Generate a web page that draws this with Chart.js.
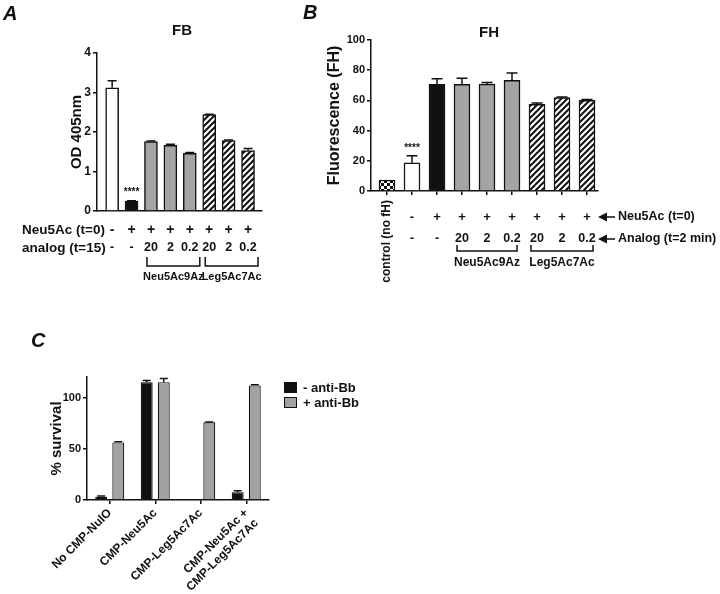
<!DOCTYPE html>
<html>
<head>
<meta charset="utf-8">
<script src="https://cdn.jsdelivr.net/npm/chart.js@4.4.0/dist/chart.umd.min.js"></script>
<style>
    html, body { margin: 0; padding: 0; background: #fff; }
    #wrap { position: relative; width: 720px; height: 594px; }
    canvas { position: absolute; left: 0; top: 0; }
</style>
</head>
<body>
<div id="wrap">
    <canvas id="chartA" width="720" height="594"></canvas>
    <canvas id="chartB" width="720" height="594"></canvas>
    <canvas id="chartC" width="720" height="594"></canvas>
</div>
<script>
// --- DATA ---
// Panel A: FB deposition (OD 405nm)
const fbNeu5Ac = ['-', '+', '+', '+', '+', '+', '+', '+'];
const fbAnalog = ['-', '-', '20', '2', '0.2', '20', '2', '0.2'];
const fbValues = [3.12, 0.25, 1.76, 1.66, 1.46, 2.44, 1.78, 1.53];
const fbErrors = [0.18, 0.01, 0.01, 0.03, 0.02, 0.01, 0.02, 0.05];
const fbStyles = ['white', 'black', 'gray', 'gray', 'gray', 'hatch', 'hatch', 'hatch'];

// Panel B: FH binding (fluorescence)
const fhNeu5Ac = ['', '-', '+', '+', '+', '+', '+', '+', '+'];
const fhAnalog = ['', '-', '-', '20', '2', '0.2', '20', '2', '0.2'];
const fhValues = [7.2, 18.7, 70.6, 70.6, 70.8, 73.3, 57.4, 61.8, 60.0];
const fhErrors = [0, 4.7, 3.8, 4.0, 1.1, 4.8, 0.9, 0.4, 0.6];
const fhStyles = ['checker', 'white', 'black', 'gray', 'gray', 'gray', 'hatch', 'hatch', 'hatch'];

// Panel C: % survival
const survivalGroups = [['No CMP-NulO'], ['CMP-Neu5Ac'], ['CMP-Leg5Ac7Ac'], ['CMP-Neu5Ac +', 'CMP-Leg5Ac7Ac']];
const survivalNoAb = [3.2, 115, 0, 7.5];
const survivalNoAbErr = [0.6, 1.5, 0, 1.6];
const survivalAb = [56.2, 115, 75.8, 111.8];
const survivalAbErr = [0.6, 3.6, 0.4, 0.7];
const legendLabels = ['- anti-Bb', '+ anti-Bb'];

// --- STYLE HELPERS ---
const INK = '#111';
const GRAY = '#a4a4a4';
const FONT = 'Liberation Sans';
Chart.defaults.font.family = FONT;
Chart.defaults.font.weight = 'bold';
Chart.defaults.color = INK;
Chart.defaults.animation = false;

function makeHatch() {
    const s = 6;
    const c = document.createElement('canvas');
    c.width = s; c.height = s;
    const g = c.getContext('2d');
    g.fillStyle = '#fff';
    g.fillRect(0, 0, s, s);
    g.strokeStyle = INK;
    g.lineWidth = 2;
    g.beginPath();
    g.moveTo(0, s); g.lineTo(s, 0);
    g.moveTo(-1, 1); g.lineTo(1, -1);
    g.moveTo(s - 1, s + 1); g.lineTo(s + 1, s - 1);
    g.stroke();
    return g.createPattern(c, 'repeat');
}

function makeChecker() {
    const c = document.createElement('canvas');
    c.width = 6; c.height = 6;
    const g = c.getContext('2d');
    g.fillStyle = '#fff';
    g.fillRect(0, 0, 6, 6);
    g.fillStyle = INK;
    g.fillRect(0, 0, 3, 3);
    g.fillRect(3, 3, 3, 3);
    return g.createPattern(c, 'repeat');
}

const fills = { white: '#fff', black: INK, gray: GRAY, hatch: makeHatch(), checker: makeChecker() };

// up-only error bars with cap, drawn from dataset.errors
const errorBars = {
    id: 'errorBars',
    afterDatasetsDraw(chart, args, opts) {
        const ctx = chart.ctx;
        const y = chart.scales.y;
        ctx.save();
        ctx.strokeStyle = INK;
        ctx.lineWidth = 1.5;
        chart.data.datasets.forEach((ds, di) => {
            if (!ds.errors) return;
            chart.getDatasetMeta(di).data.forEach((bar, i) => {
                const e = ds.errors[i];
                if (!e) return;
                const raw = ds.data[i];
                const v = typeof raw === 'object' ? raw.y : raw;
                const top = y.getPixelForValue(v + e);
                const half = opts.cap / 2;
                ctx.beginPath();
                ctx.moveTo(bar.x, bar.y);
                ctx.lineTo(bar.x, top);
                ctx.moveTo(bar.x - half, top);
                ctx.lineTo(bar.x + half, top);
                ctx.stroke();
            });
        });
        ctx.restore();
    }
};

function text(ctx, str, x, y, size, align, italic) {
    ctx.font = (italic ? 'italic ' : '') + 'bold ' + size + 'px "' + FONT + '"';
    ctx.textAlign = align || 'center';
    ctx.textBaseline = 'middle';
    ctx.fillStyle = INK;
    ctx.fillText(str, x, y);
}

function bracket(ctx, x1, x2, yTop, yBot) {
    ctx.save();
    ctx.strokeStyle = INK;
    ctx.lineWidth = 1.5;
    ctx.beginPath();
    ctx.moveTo(x1, yTop); ctx.lineTo(x1, yBot); ctx.lineTo(x2, yBot); ctx.lineTo(x2, yTop);
    ctx.stroke();
    ctx.restore();
}

function arrow(ctx, x, y) {
    ctx.save();
    ctx.fillStyle = INK;
    ctx.strokeStyle = INK;
    ctx.lineWidth = 1.5;
    ctx.beginPath();
    ctx.moveTo(x, y); ctx.lineTo(x + 9, y - 4.5); ctx.lineTo(x + 9, y + 4.5); ctx.closePath();
    ctx.fill();
    ctx.beginPath();
    ctx.moveTo(x + 8, y); ctx.lineTo(x + 17, y);
    ctx.stroke();
    ctx.restore();
}

function yAxis(opts) {
    return {
        min: 0, max: opts.max,
        afterFit: s => { s.width = opts.width; },
        border: { color: INK, width: 1.5 },
        grid: { display: true, drawOnChartArea: false, color: INK, lineWidth: 1.5, tickLength: 4 },
        ticks: { stepSize: opts.step, padding: 2, font: { size: opts.tickSize }, color: INK, includeBounds: false },
        title: { display: true, text: opts.title, font: { size: opts.titleSize }, color: INK, padding: { top: opts.titlePad, bottom: 0 } }
    };
}

function xIndexAxis(min, max, count, showTicks) {
    return {
        type: 'linear', min: min, max: max, offset: false,
        afterFit: s => { s.height = 0; },
        afterBuildTicks: s => { s.ticks = Array.from({ length: count }, (_, i) => ({ value: i })); },
        border: { color: INK, width: 1.5 },
        grid: { display: showTicks, offset: false, drawOnChartArea: false, color: INK, lineWidth: 1.5, tickLength: 4 },
        ticks: { display: false }
    };
}

// --- PANEL A ---
new Chart(document.getElementById('chartA'), {
    type: 'bar',
    data: {
        datasets: [{
            data: fbValues.map((v, i) => ({ x: i, y: v })),
            errors: fbErrors,
            backgroundColor: fbStyles.map(s => fills[s]),
            borderColor: INK,
            borderWidth: 1.5,
            barThickness: 13
        }]
    },
    options: {
        responsive: false,
        devicePixelRatio: 1,
        layout: { padding: { left: 60, top: 53, right: 458, bottom: 383 } },
        scales: {
            x: xIndexAxis(-0.78, 7.72, fbValues.length, false),
            y: yAxis({ max: 4, step: 1, width: 37, tickSize: 12, title: 'OD 405nm', titleSize: 15, titlePad: 8 })
        },
        plugins: { legend: { display: false }, tooltip: { enabled: false }, errorBars: { cap: 9 } }
    },
    plugins: [errorBars, {
        id: 'fbExtras',
        afterDraw(chart) {
            const ctx = chart.ctx;
            const x = chart.scales.x, y = chart.scales.y;
            text(ctx, 'A', 3, 14, 20, 'left', true);
            text(ctx, 'FB', 182, 31, 15);
            text(ctx, '****', x.getPixelForValue(1), y.getPixelForValue(fbValues[1]) - 9, 10);
            text(ctx, 'Neu5Ac (t=0)', 22, 230, 13.5, 'left');
            text(ctx, 'analog (t=15)', 22, 248, 13.5, 'left');
            fbNeu5Ac.forEach((s, i) => text(ctx, s, x.getPixelForValue(i), 230, 14));
            fbAnalog.forEach((s, i) => text(ctx, s, x.getPixelForValue(i), 248, 12.5));
            bracket(ctx, x.getPixelForValue(2) - 4, x.getPixelForValue(4) + 10, 257, 266);
            bracket(ctx, x.getPixelForValue(5) - 4, x.getPixelForValue(7) + 10, 257, 266);
            text(ctx, 'Neu5Ac9Az', (x.getPixelForValue(2) + x.getPixelForValue(4)) / 2 + 3, 277, 11);
            text(ctx, 'Leg5Ac7Ac', (x.getPixelForValue(5) + x.getPixelForValue(7)) / 2 + 3, 277, 11);
        }
    }]
});

// --- PANEL B ---
new Chart(document.getElementById('chartB'), {
    type: 'bar',
    data: {
        datasets: [{
            data: fhValues.map((v, i) => ({ x: i, y: v })),
            errors: fhErrors,
            backgroundColor: fhStyles.map(s => fills[s]),
            borderColor: INK,
            borderWidth: 1.5,
            barThickness: 16
        }]
    },
    options: {
        responsive: false,
        devicePixelRatio: 1,
        layout: { padding: { left: 320, top: 40, right: 122, bottom: 403 } },
        scales: {
            x: xIndexAxis(-0.64, 8.44, fhValues.length, true),
            y: yAxis({ max: 100, step: 20, width: 51, tickSize: 11, title: 'Fluorescence (FH)', titleSize: 16, titlePad: 5 })
        },
        plugins: { legend: { display: false }, tooltip: { enabled: false }, errorBars: { cap: 11 } }
    },
    plugins: [errorBars, {
        id: 'fhExtras',
        afterDraw(chart) {
            const ctx = chart.ctx;
            const x = chart.scales.x, y = chart.scales.y;
            text(ctx, 'B', 303, 13, 20, 'left', true);
            text(ctx, 'FH', 489, 33, 15);
            text(ctx, '****', x.getPixelForValue(1), y.getPixelForValue(fhValues[1] + fhErrors[1]) - 7, 10);
            // rotated label under the control bar
            ctx.save();
            ctx.translate(x.getPixelForValue(0), 200);
            ctx.rotate(-Math.PI / 2);
            text(ctx, 'control (no fH)', 0, 0, 12, 'right');
            ctx.restore();
            fhNeu5Ac.forEach((s, i) => text(ctx, s, x.getPixelForValue(i), 217, 13));
            fhAnalog.forEach((s, i) => text(ctx, s, x.getPixelForValue(i), 239, 12.5));
            arrow(ctx, 598, 217);
            arrow(ctx, 598, 239);
            text(ctx, 'Neu5Ac (t=0)', 618, 217, 12.5, 'left');
            text(ctx, 'Analog (t=2 min)', 618, 239, 12.5, 'left');
            bracket(ctx, x.getPixelForValue(3) - 5, x.getPixelForValue(5) + 5, 245, 251);
            bracket(ctx, x.getPixelForValue(6) - 6, x.getPixelForValue(8) + 6, 245, 251);
            text(ctx, 'Neu5Ac9Az', x.getPixelForValue(4), 263, 12);
            text(ctx, 'Leg5Ac7Ac', x.getPixelForValue(7), 263, 12);
        }
    }]
});

// --- PANEL C ---
new Chart(document.getElementById('chartC'), {
    type: 'bar',
    data: {
        labels: survivalGroups,
        datasets: [{
            label: legendLabels[0],
            data: survivalNoAb,
            errors: survivalNoAbErr,
            backgroundColor: INK,
            borderColor: INK,
            borderWidth: 1.2,
            categoryPercentage: 0.75,
            barPercentage: 0.7
        }, {
            label: legendLabels[1],
            data: survivalAb,
            errors: survivalAbErr,
            backgroundColor: '#a2a2a2',
            borderColor: INK,
            borderWidth: 1.2,
            categoryPercentage: 0.75,
            barPercentage: 0.7
        }]
    },
    options: {
        responsive: false,
        devicePixelRatio: 1,
        layout: { padding: { left: 40, top: 377, right: 451, bottom: 4 } },
        scales: {
            x: {
                afterFit: s => { s.height = 90; },
                border: { color: INK, width: 1.5 },
                grid: { display: true, drawOnChartArea: false, offset: false, color: INK, lineWidth: 1.5, tickLength: 4 },
                ticks: { minRotation: 45, maxRotation: 45, padding: 2, font: { size: 12 }, color: INK }
            },
            y: yAxis({ max: 120, step: 50, width: 47, tickSize: 11, title: '% survival', titleSize: 15, titlePad: 8 })
        },
        plugins: { legend: { display: false }, tooltip: { enabled: false }, errorBars: { cap: 8 } }
    },
    plugins: [errorBars, {
        id: 'survivalExtras',
        afterDraw(chart) {
            const ctx = chart.ctx;
            text(ctx, 'C', 31, 341, 20, 'left', true);
            chart.data.datasets.forEach((ds, i) => {
                const top = 382 + i * 15;
                ctx.fillStyle = ds.backgroundColor;
                ctx.fillRect(284, top, 13, 11);
                ctx.strokeStyle = INK;
                ctx.lineWidth = 1;
                ctx.strokeRect(284.5, top + 0.5, 12, 10);
                text(ctx, ds.label, 303, top + 6, 13, 'left');
            });
        }
    }]
});
</script>
</body>
</html>
